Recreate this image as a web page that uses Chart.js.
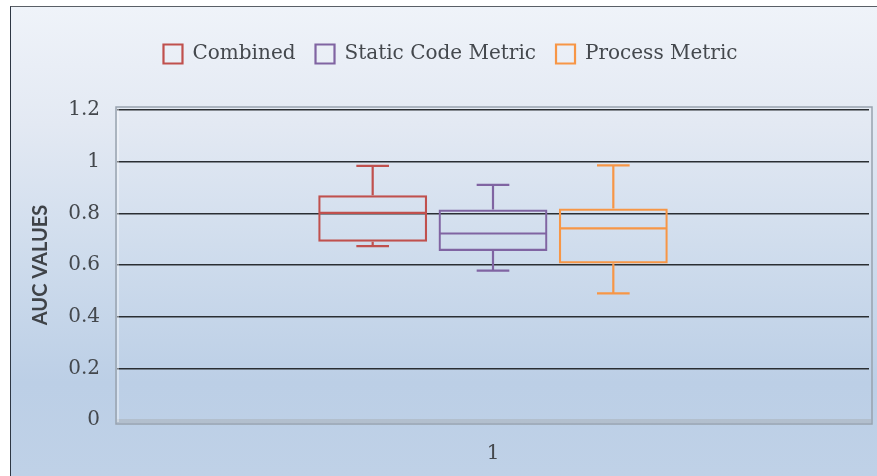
<!DOCTYPE html>
<html>
<head>
<meta charset="utf-8">
<script src="https://cdn.jsdelivr.net/npm/chart.js@4.4.1/dist/chart.umd.min.js"></script>
<style>
  body { margin: 0; background: #fff; }
  #wrap { position: relative; width: 877px; height: 476px; overflow: hidden; }
  #bg {
    position: absolute; left: 10px; top: 6px; right: 0; bottom: 0;
    border-left: 1.5px solid #2e3744; border-top: 1.5px solid #5a5f66;
    background: linear-gradient(to bottom, #eff3f9 0%, #e3e9f3 25%, #cddbec 55%, #bccfe6 80%, #bfd1e7 100%);
  }
  #myChart { position: absolute; left: 0; top: 0; }
</style>
</head>
<body>
<div id="wrap">
  <div id="bg"></div>
  <canvas id="myChart" width="877" height="476"></canvas>
</div>
<script>
const categories = ["1"];
const seriesNames = ["Combined", "Static Code Metric", "Process Metric"];
const seriesColors = ["#c0504d", "#8064a2", "#f79646"];

// box plot values
const minVals = [0.673, 0.578, 0.490];
const q1Vals = [0.690, 0.654, 0.606];
const medianVals = [0.802, 0.722, 0.742];
const q3Vals = [0.870, 0.815, 0.819];
const maxVals = [0.984, 0.910, 0.986];

const yMin = 0, yMax = 1.2, yStep = 0.2;

const serif = "'DejaVu Serif', serif";
const textColor = "#44484d";

// extra room under the legend, and nudge it right like the original
const legendGap = {
  id: "legendGap",
  beforeInit(chart) {
    const fit = chart.legend.fit;
    chart.legend.fit = function () {
      fit.bind(chart.legend)();
      this.height += 36;
    };
  },
  afterLayout(chart) {
    chart.legend.left += 16;
    chart.legend.right += 16;
  }
};

// frame round the plot area
const frame = {
  id: "frame",
  beforeDatasetsDraw(chart) {
    const { ctx, chartArea: a } = chart;
    ctx.save();
    ctx.fillStyle = "rgba(170,176,184,0.55)";
    ctx.fillRect(a.left, a.bottom - 1, a.right - a.left + 2, 4);
    ctx.strokeStyle = "#98a2ae";
    ctx.lineWidth = 1.5;
    ctx.strokeRect(a.left - 1, a.top - 3, a.right - a.left + 4, a.bottom - a.top + 7);
    ctx.strokeStyle = "rgba(255,255,255,0.8)";
    ctx.lineWidth = 1;
    ctx.beginPath();
    ctx.moveTo(a.left + 1, a.bottom + 2);
    ctx.lineTo(a.left + 1, a.top - 1);
    ctx.stroke();
    ctx.restore();
  }
};

// whiskers and medians drawn on top of the floating bars (the boxes)
const whiskers = {
  id: "whiskers",
  afterDatasetsDraw(chart) {
    const { ctx } = chart;
    const y = chart.scales.y;
    chart.data.datasets.forEach((ds, i) => {
      const meta = chart.getDatasetMeta(i);
      meta.data.forEach(bar => {
        const x = bar.x;
        const half = bar.width / 2;
        const cap = bar.width * 0.15;
        const pMin = y.getPixelForValue(minVals[i]);
        const pMax = y.getPixelForValue(maxVals[i]);
        const pQ1 = y.getPixelForValue(q1Vals[i]);
        const pQ3 = y.getPixelForValue(q3Vals[i]);
        const pMed = y.getPixelForValue(medianVals[i]);
        ctx.save();
        ctx.strokeStyle = ds.borderColor;
        ctx.lineWidth = 2.2;
        ctx.beginPath();
        ctx.moveTo(x - half + 1, pMed); ctx.lineTo(x + half - 1, pMed);
        ctx.moveTo(x, pQ3); ctx.lineTo(x, pMax);
        ctx.moveTo(x - cap, pMax); ctx.lineTo(x + cap, pMax);
        ctx.moveTo(x, pQ1); ctx.lineTo(x, pMin);
        ctx.moveTo(x - cap, pMin); ctx.lineTo(x + cap, pMin);
        ctx.stroke();
        ctx.restore();
      });
    });
  }
};

const ctx = document.getElementById("myChart").getContext("2d");
let chart = new Chart(ctx, {
  type: "bar",
  data: {
    labels: categories,
    datasets: seriesNames.map((name, i) => ({
      label: name,
      data: [[q1Vals[i], q3Vals[i]]],
      backgroundColor: "rgba(0,0,0,0)",
      borderColor: seriesColors[i],
      borderWidth: 2.2,
      borderSkipped: false,
      categoryPercentage: 0.48,
      barPercentage: 0.905
    }))
  },
  options: {
    responsive: false,
    animation: false,
    layout: { padding: { left: 0, right: 8, top: 24, bottom: 6 } },
    plugins: {
      legend: {
        position: "top",
        labels: {
          boxWidth: 19,
          boxHeight: 19,
          padding: 20,
          color: textColor,
          font: { family: serif, size: 20 }
        }
      },
      tooltip: { enabled: false }
    },
    scales: {
      x: {
        afterFit: s => { s.height = 50; },
        grid: { display: false, drawTicks: false },
        border: { display: false },
        ticks: { color: textColor, padding: 22, font: { family: serif, size: 20 } }
      },
      y: {
        min: yMin,
        max: yMax,
        afterFit: s => { s.width = 117; },
        ticks: {
          stepSize: yStep,
          padding: 17,
          color: textColor,
          font: { family: serif, size: 20 },
          callback: v => String(+v.toFixed(1))
        },
        grid: {
          drawTicks: false,
          lineWidth: 1.5,
          color: c => (c.tick && c.tick.value === 0 ? "rgba(0,0,0,0)" : "#2a2e33")
        },
        border: { display: false },
        title: {
          display: true,
          text: "AUC VALUES",
          color: "#3f4348",
          padding: { top: 29 },
          font: { family: "Lato", size: 20, weight: "bold" }
        }
      }
    }
  },
  plugins: [legendGap, frame, whiskers]
});
</script>
</body>
</html>
